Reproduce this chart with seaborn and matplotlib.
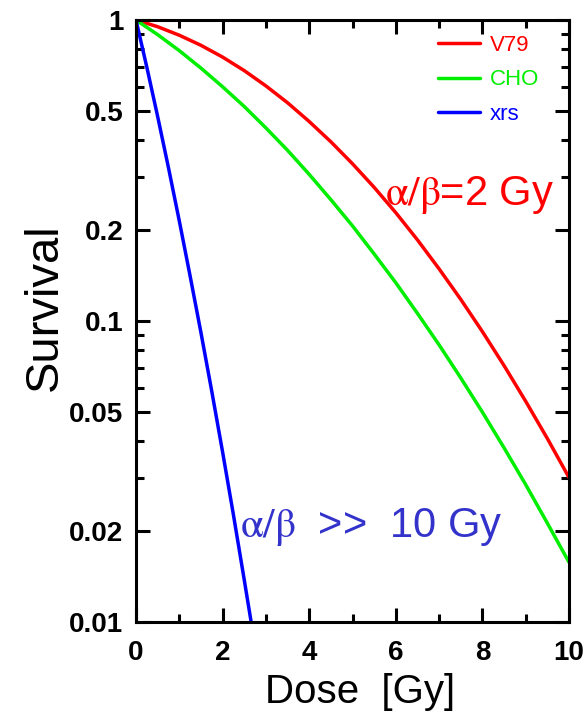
import matplotlib
matplotlib.use("Agg")
import matplotlib.pyplot as plt
import matplotlib.ticker as mticker
from matplotlib.lines import Line2D
import numpy as np
import pandas as pd
import seaborn as sns

# Cell survival vs dose (read as survival fractions)
dose_main = [0, 0.5, 1, 1.5, 2, 2.5, 3, 3.5, 4, 4.5, 5, 5.5, 6, 6.5, 7,
             7.5, 8, 8.5, 9, 9.5, 10]
v79 = [1.000, 0.950, 0.890, 0.824, 0.753, 0.679, 0.604, 0.531, 0.460, 0.394,
       0.333, 0.278, 0.229, 0.186, 0.149, 0.118, 0.0922, 0.0711, 0.0541,
       0.0407, 0.0302]
cho = [1.000, 0.894, 0.791, 0.692, 0.600, 0.516, 0.438, 0.369, 0.307, 0.253,
       0.207, 0.167, 0.134, 0.106, 0.0833, 0.0647, 0.0498, 0.0379, 0.0286,
       0.0213, 0.0158]
dose_xrs = [0, 0.25, 0.5, 0.75, 1, 1.25, 1.5, 1.75, 2, 2.25, 2.5, 2.75]
xrs = [1.000, 0.697, 0.478, 0.323, 0.215, 0.141, 0.0915, 0.0584, 0.0367,
       0.0227, 0.0138, 0.00832]

lines = ["V79", "CHO", "xrs"]
colors = {"V79": "#ff0000", "CHO": "#00ee00", "xrs": "#0000ff"}

x_ticks = [0, 2, 4, 6, 8, 10]
y_ticks = [0.01, 0.02, 0.05, 0.1, 0.2, 0.5, 1]
y_tick_labels = ["0.01", "0.02", "0.05", "0.1", "0.2", "0.5", "1"]

df = pd.concat([
    pd.DataFrame({"Dose": dose_main, "Survival": v79, "line": "V79"}),
    pd.DataFrame({"Dose": dose_main, "Survival": cho, "line": "CHO"}),
    pd.DataFrame({"Dose": dose_xrs, "Survival": xrs, "line": "xrs"}),
], ignore_index=True)

sns.set_style("ticks")
plt.rcParams["font.family"] = ["Liberation Sans", "DejaVu Sans"]
plt.rcParams["mathtext.fontset"] = "stix"
plt.rcParams["text.color"] = "black"
plt.rcParams["axes.labelcolor"] = "black"
plt.rcParams["xtick.color"] = "black"
plt.rcParams["ytick.color"] = "black"

fig = plt.figure(figsize=(5.84, 7.18), dpi=100)
ax = fig.add_axes([136 / 584, 1 - 622 / 718, (569 - 136) / 584, (622 - 20) / 718])

sns.lineplot(data=df, x="Dose", y="Survival", hue="line", hue_order=lines,
             palette=colors, linewidth=2.5, legend=False, ax=ax,
             estimator=None, sort=False)

ax.set_yscale("log")
ax.set_xlim(0, 10)
ax.set_ylim(0.01, 1)

ax.xaxis.set_major_locator(mticker.FixedLocator(x_ticks))
ax.xaxis.set_minor_locator(mticker.FixedLocator([1, 3, 5, 7, 9]))
ax.set_xticklabels([str(t) for t in x_ticks])
ax.yaxis.set_major_locator(mticker.FixedLocator(y_ticks))
ax.yaxis.set_major_formatter(mticker.FixedFormatter(y_tick_labels))
minor_y = [m * 10.0 ** e for e in (-2, -1) for m in (3, 4, 6, 7, 8, 9)]
ax.yaxis.set_minor_locator(mticker.FixedLocator(minor_y))
ax.yaxis.set_minor_formatter(mticker.NullFormatter())

for s in ax.spines.values():
    s.set_linewidth(2.2)
    s.set_color("black")
ax.tick_params(which="both", direction="in", top=True, right=True,
               width=2.2, color="black", labelcolor="black")
ax.tick_params(which="major", length=10, labelsize=20)
ax.tick_params(axis="y", which="major", pad=9)
ax.tick_params(axis="x", which="major", pad=13)
ax.tick_params(which="minor", length=6)
for lab in ax.get_xticklabels() + ax.get_yticklabels():
    lab.set_fontweight("bold")

ax.set_xlabel("Dose  [Gy]", fontsize=29)
ax.set_ylabel("Survival", fontsize=34)
ax.xaxis.set_label_coords(0.517, -0.085)
ax.yaxis.set_label_coords(-0.16, 0.523)

handles = [Line2D([], [], color=colors[n], linewidth=2.5) for n in lines]
ax.legend(handles, lines, loc="upper left", bbox_to_anchor=(0.697, 0.975),
          frameon=False, fontsize=16, handlelength=1.9, handletextpad=0.45,
          labelspacing=0.6, borderpad=0, borderaxespad=0,
          labelcolor="linecolor")

ax.text(5.75, 0.262, r"$\mathrm{\alpha/\beta}$=2 Gy", color="#ff0000",
        fontsize=30, ha="left", va="center")
ax.text(2.4, 0.0207, r"$\mathrm{\alpha/\beta}$  >>  10 Gy", color="#3333cc",
        fontsize=30, ha="left", va="center")

fig.savefig("out.png", dpi=100)
